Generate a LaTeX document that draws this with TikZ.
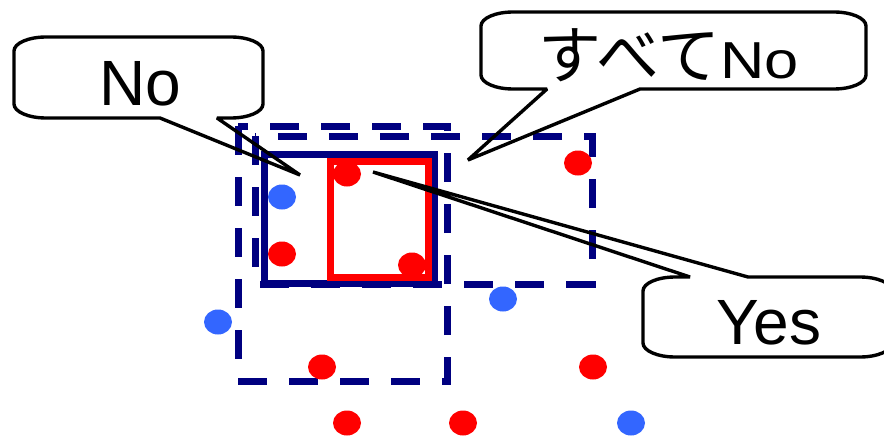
\documentclass[tikz,border=0pt]{standalone}
\usepackage{fontspec}
\setmainfont{Liberation Sans}
\newfontfamily\jpfont{Noto Sans CJK JP}
\definecolor{navyline}{RGB}{0,0,128}
\definecolor{dotred}{RGB}{255,0,0}
\definecolor{dotblue}{RGB}{51,102,255}
\tikzset{
  dashbox/.style={draw=navyline, line width=7pt, dash pattern=on 29pt off 22pt},
  solidbox/.style={draw=navyline, line width=7pt},
  redbox/.style={draw=dotred, line width=7pt},
  rdot/.style={fill=dotred},
  bdot/.style={fill=dotblue},
  calloutline/.style={draw=black, line width=3.4pt, line join=bevel},
  bigtext/.style={font=\fontsize{64}{70}\selectfont, inner sep=0pt, anchor=base},
}
% Rounded callout outline: box corners (#1,#2)-(#3,#4), pointer base x #5..#6 on the side
% given by #7 (b = bottom edge, t = top edge), pointer tip coordinate #8
\newcommand{\calloutpath}[8]{%
  \if#7b
    \draw[calloutline] (#5,#4) -- (#8) -- (#6,#4)
      -- ({#3-32},#4) arc[start angle=90, end angle=0, x radius=32, y radius=14]
      -- (#3,{#2+14}) arc[start angle=0, end angle=-90, x radius=32, y radius=14]
      -- ({#1+32},#2) arc[start angle=270, end angle=180, x radius=32, y radius=14]
      -- (#1,{#4-14}) arc[start angle=180, end angle=90, x radius=32, y radius=14]
      -- cycle;
  \else
    \draw[calloutline] (#6,#2) -- (#8) -- (#5,#2)
      -- ({#1+32},#2) arc[start angle=270, end angle=180, x radius=32, y radius=14]
      -- (#1,{#4-14}) arc[start angle=180, end angle=90, x radius=32, y radius=14]
      -- ({#3-32},#4) arc[start angle=90, end angle=0, x radius=32, y radius=14]
      -- (#3,{#2+14}) arc[start angle=0, end angle=-90, x radius=32, y radius=14]
      -- cycle;
  \fi
}
\begin{document}
\begin{tikzpicture}[x=1pt, y=1pt, yscale=-1]
\useasboundingbox (0,0) rectangle (884,436);

% dashed regions
\draw[dashbox] (238,126) -- (238,381) -- (447,381) -- (447,126) -- cycle;
\draw[dashbox] (255,136) -- (255,284) -- (592,284) -- (592,136) -- cycle;
% solid regions
\draw[solidbox] (264,154) rectangle (434,283);
\draw[redbox] (330,161) rectangle (428,277);

% data points
\foreach \n/\x/\y/\s in {p1/282/197/bdot, p2/282/254/rdot, p3/347/174/rdot, p4/412/265/rdot,
    p5/578/163/rdot, p6/503/299/bdot, p7/218/322/bdot, p8/322/367/rdot, p9/593/367/rdot,
    p10/347/423/rdot, p11/463/423/rdot, p12/631/423/bdot}
  \fill[\s] (\x,\y) ellipse[x radius=14, y radius=12.5];

% pointer tips
\coordinate (tipNo) at (300,175);
\coordinate (tipAll) at (468,160);
\coordinate (tipYes) at (373,172);

% callout labels
\node[bigtext] (labNo) at (140,106) {No};
\node[inner sep=0pt, anchor=base west] (labAll) at (538,79)
  {{\jpfont\fontsize{63}{68}\selectfont すべて}{\fontsize{52}{56}\selectfont\scalebox{1.18}[1]{No}}};
\node[bigtext] (labYes) at (769,344) {Yes};

% callout outlines
\calloutpath{14}{37}{263}{118}{160}{217}{b}{tipNo}
\calloutpath{481}{12}{866}{89}{547}{640}{b}{tipAll}
\calloutpath{643}{277}{892}{357}{690}{748}{t}{tipYes}
\end{tikzpicture}
\end{document}
